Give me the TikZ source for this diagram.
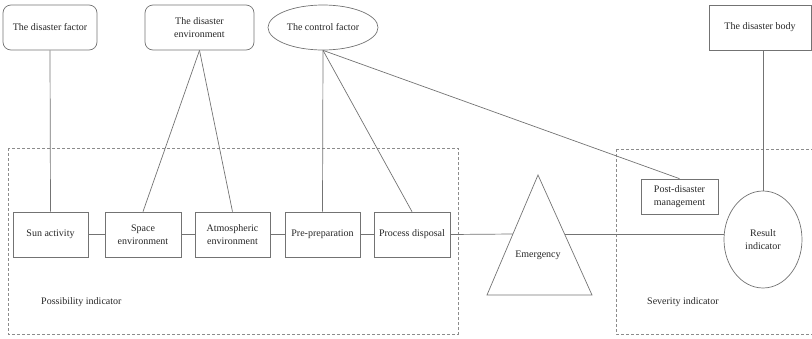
\documentclass[tikz,border=0pt]{standalone}
\usepackage{fontspec}
\setmainfont{Liberation Serif}
\usetikzlibrary{shapes.geometric,calc}
\begin{document}
\begin{tikzpicture}[x=1pt,y=-1pt,
  every node/.style={font=\fontsize{10}{13.5}\selectfont, text=black!85, align=center, inner sep=1pt},
  conn/.style={draw=black!55, line width=0.7pt},
  rbox/.style={draw=black!55, line width=0.7pt, rounded corners=8pt, minimum height=45pt},
  sbox/.style={draw=black!55, line width=0.7pt, minimum height=45pt},
  region/.style={draw=black!45, line width=0.7pt, dash pattern=on 3pt off 2pt}]
\useasboundingbox (0,0) rectangle (812,338);
% regions
\draw[region] (8,148) rectangle (458,334);
\draw[region] (616,149) -- (816,149);
\draw[region] (616,149) -- (616,334) -- (816,334);
% top nodes
\node[rbox, minimum width=94pt] (df) at (50,27.5) {The disaster factor};
\node[rbox, minimum width=109pt] (de) at (199.5,27.5) {The disaster\\environment};
\node[ellipse, draw=black!55, line width=0.7pt, minimum width=110pt, minimum height=45pt, inner sep=0pt] (cf) at (323,27.5) {The control factor};
\node[sbox, minimum width=102pt] (db) at (760,27.5) {The disaster body};
% chain
\node[sbox, minimum width=75pt] (sun) at (50.5,234.5) {Sun activity};
\node[sbox, minimum width=76pt] (space) at (143,234.5) {Space\\environment};
\node[sbox, minimum width=75pt] (atm) at (232.5,234.5) {Atmospheric\\environment};
\node[sbox, minimum width=75pt] (pre) at (322.5,234.5) {Pre-preparation};
\node[sbox, minimum width=76pt] (proc) at (412,234.5) {Process disposal};
% emergency triangle
\coordinate (apex) at (538,175);
\coordinate (bl) at (487,295);
\coordinate (br) at (592,295);
\draw[conn] (apex) -- (bl) -- (br) -- cycle;
\node (emer) at (538,255) {Emergency};
\coordinate (tl) at ($(apex)!0.4917!(bl)$);
\coordinate (tr) at ($(apex)!0.4917!(br)$);
% severity side
\node[draw=black!55, line width=0.7pt, minimum width=77pt, minimum height=35pt] (post) at (679.5,196.5) {Post-disaster\\management};
\node[ellipse, draw=black!55, line width=0.7pt, minimum width=78pt, minimum height=97pt, inner sep=0pt] (res) at (763,239.5) {Result\\indicator};
% labels
\node[anchor=west] (pl) at (40,302) {Possibility indicator};
\node[anchor=west] (sl) at (646,302) {Severity indicator};
% connectors
\draw[conn] (df.south) -- (sun.north);
\draw[conn] (de.south) -- (space.north);
\draw[conn] (de.south) -- (atm.north);
\draw[conn] (cf.south) -- (pre.north);
\draw[conn] (cf.south) -- (proc.north);
\draw[conn] (cf.south) -- (post.north);
\draw[conn] (res.north |- db.south) -- (res.north);
\draw[conn] (sun.east) -- (space.west);
\draw[conn] (space.east) -- (atm.west);
\draw[conn] (atm.east) -- (pre.west);
\draw[conn] (pre.east) -- (proc.west);
\draw[conn] (proc.east) -- (tl);
\draw[conn] (tr) -- (tr -| res.west);
\end{tikzpicture}
\end{document}
